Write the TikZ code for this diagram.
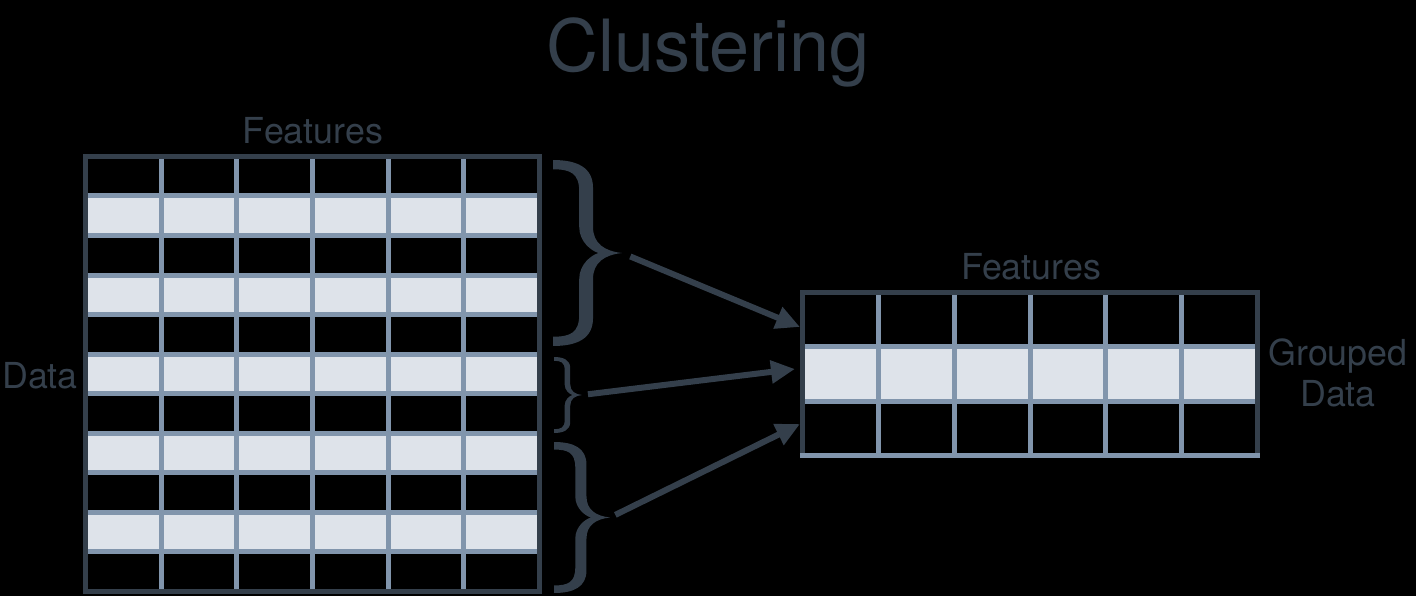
\documentclass[tikz,border=0pt]{standalone}
\usepackage{fontspec}
\setmainfont{TeX Gyre Heros}
\usetikzlibrary{arrows.meta}
\definecolor{dk}{RGB}{52,63,75}
\definecolor{gb}{RGB}{129,149,172}
\definecolor{lt}{RGB}{222,227,234}
\newcommand\mybrace[5]{%
  \begin{scope}[shift={(#2,#3)}]
  \fill[dk] (0,0) .. controls ({0.35*#4},0) and ({0.58*#4},{0.04*#5}) .. ({0.58*#4},{0.15*#5})
    -- ({0.58*#4},{0.36*#5})
    .. controls ({0.58*#4},{0.45*#5}) and ({0.75*#4},{0.49*#5}) .. (#4,{0.5*#5})
    .. controls ({0.75*#4},{0.51*#5}) and ({0.58*#4},{0.55*#5}) .. ({0.58*#4},{0.64*#5})
    -- ({0.58*#4},{0.85*#5})
    .. controls ({0.58*#4},{0.96*#5}) and ({0.35*#4},#5) .. (0,#5)
    -- (0,{0.95*#5})
    .. controls ({0.25*#4},{0.95*#5}) and ({0.38*#4},{0.93*#5}) .. ({0.38*#4},{0.83*#5})
    -- ({0.38*#4},{0.64*#5})
    .. controls ({0.38*#4},{0.56*#5}) and ({0.56*#4},{0.51*#5}) .. ({0.66*#4},{0.5*#5})
    .. controls ({0.56*#4},{0.49*#5}) and ({0.38*#4},{0.44*#5}) .. ({0.38*#4},{0.36*#5})
    -- ({0.38*#4},{0.17*#5})
    .. controls ({0.38*#4},{0.07*#5}) and ({0.25*#4},{0.05*#5}) .. (0,{0.05*#5}) -- cycle;
  \coordinate (#1) at (#4,{0.5*#5});
  \end{scope}}
\tikzset{
  lbl/.style={text=dk, font=\fontsize{35.8}{41}\selectfont, inner sep=0pt, anchor=base},
  ttl/.style={text=dk, font=\fontsize{72}{80}\selectfont, inner sep=0pt, anchor=base},
  gline/.style={gb, line width=5pt},
  bline/.style={dk, line width=5pt},
  arr/.style={dk, line width=6pt, -{Triangle[length=24pt,width=22pt]}, shorten <=9pt}
}
\begin{document}
\begin{tikzpicture}[x=1pt,y=-1pt]
\fill[black] (0,0) rectangle (1416,596);
\useasboundingbox (0,0) rectangle (1416,596);
% left grid
\foreach \i in {1,3,5,7,9} {
  \fill[lt] (85.5,{156.5+\i*39.5}) rectangle (539.5,{156.5+(\i+1)*39.5});
}
\foreach \k in {1,...,10} {
  \draw[gline] (85.5,{156.5+\k*39.5}) -- (539.5,{156.5+\k*39.5});
}
\foreach \j in {1,...,5} {
  \draw[gline] ({85.5+\j*75.667},156.5) -- ({85.5+\j*75.667},591);
}
\draw[bline] (85.5,156.5) rectangle (539.5,591);
% right grid
\fill[lt] (802.5,346.83) rectangle (1257.5,401.17);
\draw[gline] (802.5,346.83) -- (1257.5,346.83);
\draw[gline] (802.5,401.17) -- (1257.5,401.17);
\foreach \j in {1,...,5} {
  \draw[gline] ({802.5+\j*75.833},292.5) -- ({802.5+\j*75.833},455.5);
}
\draw[bline, line join=miter] (802.5,455.5) -- (802.5,292.5) -- (1257.5,292.5) -- (1257.5,455.5);
\draw[gline] (800,455.5) -- (1260,455.5);
% texts
\node[ttl] (title) at (708,72) {Clustering};
\node[lbl] (feat1) at (313,144) {Features};
\node[lbl] (feat2) at (1031,279) {Features};
\node[lbl] (data) at (40,388) {Data};
\node[lbl, align=center, anchor=north] (grp) at (1338,339) {Grouped\\Data};
% braces
\mybrace{b1}{553}{160}{69}{186}
\mybrace{b2}{554}{357}{28}{76}
\mybrace{b3}{554}{442}{56}{151}
% targets
\coordinate (t1) at (800,327);
\coordinate (t2) at (795,369);
\coordinate (t3) at (800,424);
\draw[arr] (b1) -- (t1);
\draw[arr, shorten <=6pt] (b2) -- (t2);
\draw[arr, shorten <=6pt] (b3) -- (t3);
\end{tikzpicture}
\end{document}
